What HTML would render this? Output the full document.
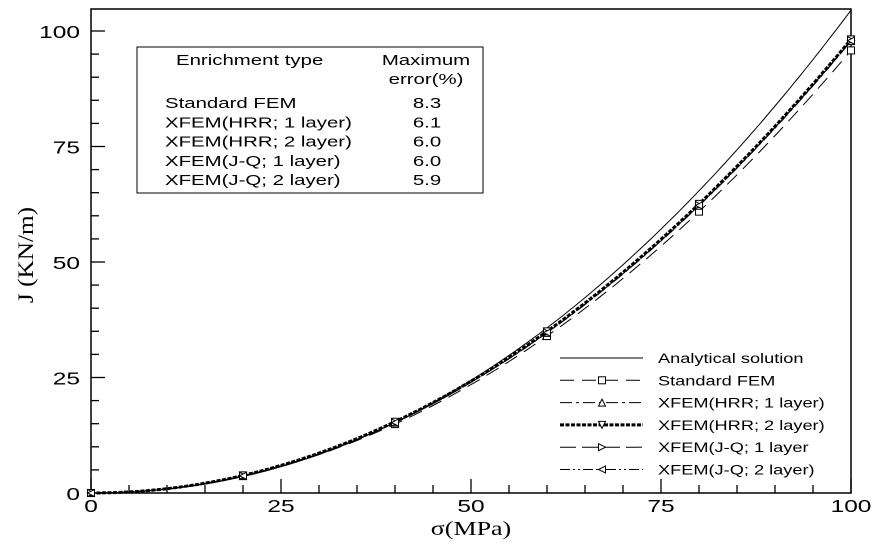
<!DOCTYPE html>
<html><head><meta charset="utf-8"><style>
html,body{margin:0;padding:0;background:#fff;}
svg text{font-family:"Liberation Sans",Arial,sans-serif;fill:#000;}
</style></head><body>
<svg id="s" width="873" height="545" xmlns="http://www.w3.org/2000/svg">
<rect x="91" y="9" width="760" height="484" fill="none" stroke="#000" stroke-width="1.5"/>
<g id="ticks" stroke="#000" stroke-width="1.3"></g>
<g id="curves" fill="none"></g>
<rect x="137" y="47" width="346" height="146" fill="#fff" stroke="#000" stroke-width="1"/>
<g id="txt"></g>
<g id="leg"></g>
</svg>
<script>
var NS="http://www.w3.org/2000/svg";
function el(p,t,a){var e=document.createElementNS(NS,t);for(var k in a)e.setAttribute(k,a[k]);p.appendChild(e);return e;}
var TX=document.getElementById('txt');
function T(x,y,s,size,anchor,serif,sx,rot){sx=sx||1.36;
var g=el(TX,'g',{transform:'translate('+x+','+y+')'+(rot?' rotate(-90)':'')+' scale('+sx+',1)'});
var a={x:0,y:0,'font-size':size,'text-anchor':anchor||'start'};
if(serif)a.style="font-family:'Liberation Serif',serif";
var t=el(g,'text',a);t.textContent=s;}
var tk=document.getElementById('ticks');
function X(v){return 91+v*7.6;}function Y(v){return 493-v*4.62;}
for(var v=0;v<=100;v+=5){var L=(v%25==0)?14:8;
el(tk,'line',{x1:X(v),y1:493,x2:X(v),y2:493-L});
el(tk,'line',{x1:91,y1:Y(v),x2:91+L,y2:Y(v)});}
[0,25,50,75,100].forEach(function(v){T(X(v),512,String(v),18,'middle');T(80,Y(v)+7,String(v),18,'end');});
T(471,535,'σ(MPa)',20,'middle',true,1.3);
T(33,255,'J (KN/m)',22,'middle',true,1.15,true);
T(176,65,'Enrichment type',15,'start');
T(426,65,'Maximum',15,'middle');
T(426,84,'error(%)',15,'middle');
var rows=[['Standard FEM','8.3'],['XFEM(HRR; 1 layer)','6.1'],['XFEM(HRR; 2 layer)','6.0'],['XFEM(J-Q; 1 layer)','6.0'],['XFEM(J-Q; 2 layer)','5.9']];
rows.forEach(function(r,i){var y=108+i*19.3;T(165,y,r[0],15,'start');T(427,y,r[1],15,'middle');});
var cg=document.getElementById('curves');
function path(a,n,style){var d='';for(var s=0;s<=100;s+=0.5){var j=a*Math.pow(s/100,n);if(j>104.7)break;d+=(s?'L':'M')+X(s).toFixed(1)+','+Y(j).toFixed(1);}
style.d=d;el(cg,'path',style);}
var ser=[
[104.5,2.1,{stroke:'#000','stroke-width':1}, 'n'],
[95.8,2.03,{stroke:'#000','stroke-width':1,'stroke-dasharray':'14,8'},'sq'],
[97.8,2.03,{stroke:'#000','stroke-width':1,'stroke-dasharray':'12,4,3,4'},'tri'],
[98.2,2.02,{stroke:'#000','stroke-width':3,'stroke-dasharray':'4,1.5'},'dtri'],
[98.0,2.03,{stroke:'#000','stroke-width':1,'stroke-dasharray':'16,6'},'rt'],
[97.9,2.03,{stroke:'#000','stroke-width':1,'stroke-dasharray':'10,3,2,3,2,3'},'lt']];
function mark(g,t,x,y){var s=3.5;
if(t=='sq')el(g,'rect',{x:x-s,y:y-s,width:2*s,height:2*s,fill:'#fff',stroke:'#000'});
if(t=='tri')el(g,'polygon',{points:(x)+','+(y-s)+' '+(x-s)+','+(y+s)+' '+(x+s)+','+(y+s),fill:'#fff',stroke:'#000'});
if(t=='dtri')el(g,'polygon',{points:(x)+','+(y+s)+' '+(x-s)+','+(y-s)+' '+(x+s)+','+(y-s),fill:'#fff',stroke:'#000'});
if(t=='rt')el(g,'polygon',{points:(x+s)+','+y+' '+(x-s)+','+(y-s)+' '+(x-s)+','+(y+s),fill:'#fff',stroke:'#000'});
if(t=='lt')el(g,'polygon',{points:(x-s)+','+y+' '+(x+s)+','+(y-s)+' '+(x+s)+','+(y+s),fill:'#fff',stroke:'#000'});}
ser.forEach(function(r){path(r[0],r[1],Object.assign({},r[2]));
if(r[3]!='n')for(var s=0;s<=100;s+=20)mark(cg,r[3],X(s),Y(r[0]*Math.pow(s/100,r[1])));});
var names=['Analytical solution','Standard FEM','XFEM(HRR; 1 layer)','XFEM(HRR; 2 layer)','XFEM(J-Q; 1 layer','XFEM(J-Q; 2 layer)'];
var lg=document.getElementById('leg');
ser.forEach(function(r,i){var y=358+i*22.3;var a=Object.assign({},r[2]);a.x1=560;a.x2=643;a.y1=y;a.y2=y;el(lg,'line',a);
if(r[3]!='n')mark(lg,r[3],602,y);
T(658,y+5,names[i],14,'start',false,1.3);});
</script>
</body></html>
